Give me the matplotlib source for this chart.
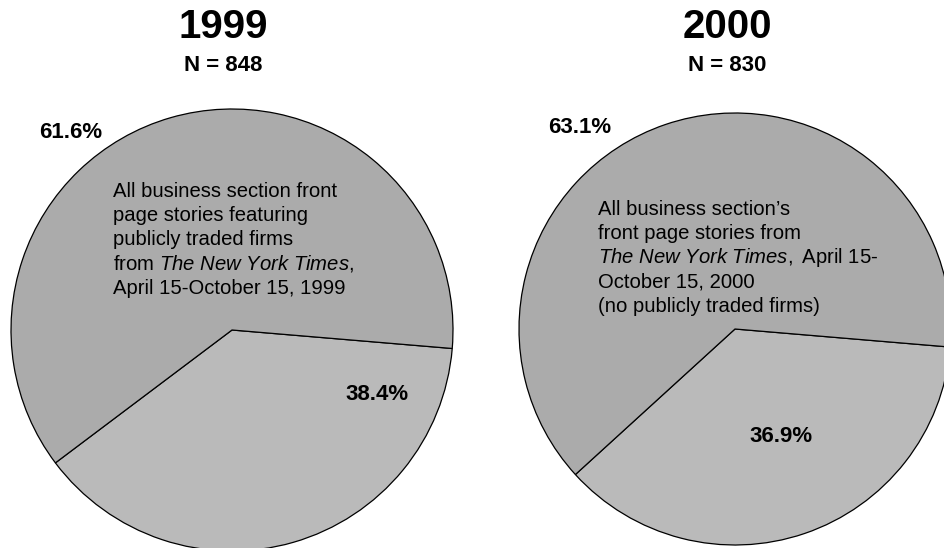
import matplotlib
matplotlib.use("Agg")
import matplotlib.pyplot as plt

plt.rcParams['font.family'] = 'Liberation Sans'
plt.rcParams['mathtext.fontset'] = 'custom'
plt.rcParams['mathtext.rm'] = 'Liberation Sans'
plt.rcParams['mathtext.it'] = 'Liberation Sans:italic'

# Share of front page stories, two years
years = ['1999', '2000']
n_stories = [848, 830]
smaller_share = [38.4, 36.9]
larger_share = [61.6, 63.1]

notes = [
    ['All business section front',
     'page stories featuring',
     'publicly traded firms',
     r'from $\mathit{The\ New\ York\ Times,}$',
     'April 15-October 15, 1999'],
    ["All business section\u2019s",
     'front page stories from',
     r'$\mathit{The\ New\ York\ Times,}$ April 15-',
     'October 15, 2000',
     '(no publicly traded firms)'],
]

W, H = 945, 548
fig = plt.figure(figsize=(W / 100, H / 100), dpi=100)
ax = fig.add_axes([0, 0, 1, 1])

# layout (pixels from top-left)
centers = [(232, 330), (735, 329)]
radii = [221, 216]
title_x = [223, 727]
big_lbl = [(71, 132), (580, 127)]
small_lbl = [(377, 395), (781, 436)]
note_xy = [(113, 197), (598, 215)]   # baseline of first line
end_angle = -4.8

for i in range(2):
    cx, cy = centers[i]
    ax.pie([smaller_share[i], larger_share[i]],
           colors=['#bababa', '#ababab'],
           startangle=end_angle - smaller_share[i] * 3.6,
           counterclock=True,
           center=(cx, H - cy), radius=radii[i],
           wedgeprops=dict(edgecolor='black', linewidth=0.9))

    ax.text(title_x[i], H - 27, years[i], ha='center', va='center',
            fontsize=29, fontweight='bold')
    ax.text(title_x[i], H - 65, f'N = {n_stories[i]}', ha='center',
            va='center', fontsize=16, fontweight='bold')

    bx, by = big_lbl[i]
    ax.text(bx, H - by, f'{larger_share[i]}%', ha='center', va='center',
            fontsize=16, fontweight='bold')
    sx, sy = small_lbl[i]
    ax.text(sx, H - sy, f'{smaller_share[i]}%', ha='center', va='center',
            fontsize=16, fontweight='bold')

    nx, ny = note_xy[i]
    for k, line in enumerate(notes[i]):
        ax.text(nx, H - ny - k * 24.2, line, ha='left', va='baseline',
                fontsize=14.6)

ax.set_xlim(0, W)
ax.set_ylim(0, H)
ax.set_aspect('equal')
ax.axis('off')

fig.savefig('out.png', dpi=100)
